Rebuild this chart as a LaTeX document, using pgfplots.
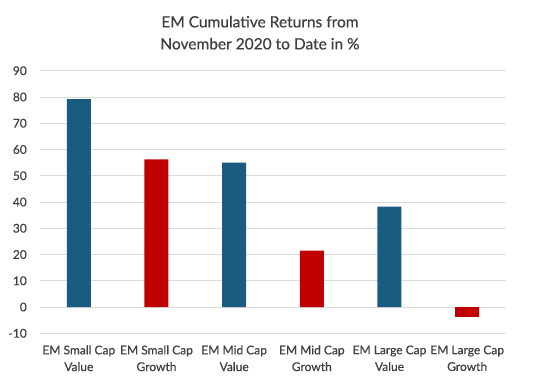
\documentclass[border=0pt]{standalone}
\usepackage{pgfplots}
\pgfplotsset{compat=1.18}
\usepackage{fontspec}
\setmainfont{Lato}[FakeBold=0.6]
\definecolor{barblue}{HTML}{1A5C80}
\definecolor{barred}{HTML}{C00000}
\definecolor{txt}{HTML}{404040}
\definecolor{gridc}{HTML}{DCDCDC}
\begin{document}
\begin{tikzpicture}
\begin{axis}[
  scale only axis,
  width=466pt, height=262.6pt,
  xmin=-0.5, xmax=5.5,
  ymin=-10, ymax=90,
  ytick={-10,0,10,20,30,40,50,60,70,80,90},
  xtick={0,1,2,3,4,5},
  xticklabels={{EM Small Cap\\Value},{EM Small Cap\\Growth},{EM Mid Cap\\Value},{EM Mid Cap\\Growth},{EM Large Cap\\Value},{EM Large Cap\\Growth}},
  xticklabel style={align=center, inner sep=0pt, yshift=-12pt, font=\fontsize{12}{16.7}\selectfont, text=txt},
  yticklabel style={inner sep=0pt, xshift=-13pt, font=\fontsize{12}{14}\selectfont, text=txt},
  /pgf/number format/assume math mode=true,
  ymajorgrids,
  major grid style={gridc, line width=0.8pt},
  axis line style={draw=none},
  tick style={draw=none},
  major tick length=0pt,
  title={EM Cumulative Returns from\\November 2020 to Date in \%},
  title style={align=center, inner sep=0pt, at={(0.472,1)}, anchor=south, yshift=15pt, font=\fontsize{15.5}{22}\selectfont, text=txt},
]
\addplot[ybar, bar width=24pt, fill=barblue, draw=none] coordinates {(0,79.2) (2,55) (4,38.2)};
\addplot[ybar, bar width=24pt, fill=barred, draw=none] coordinates {(1,56.2) (3,21.5) (5,-3.7)};
\end{axis}
\useasboundingbox (-40pt,-50.7pt) rectangle (499pt,333.3pt);
\end{tikzpicture}
\end{document}
